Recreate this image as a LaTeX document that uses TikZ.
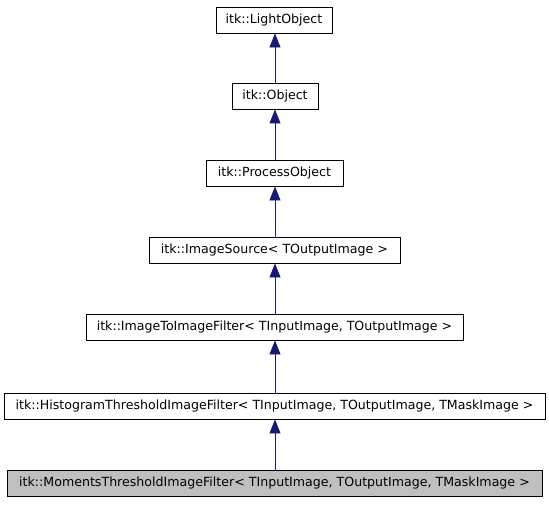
\documentclass[tikz,border=0pt]{standalone}
\usepackage{fontspec}
\setmainfont{DejaVu Sans}
\usetikzlibrary{arrows.meta}
\definecolor{edgeblue}{RGB}{25,25,112}
\definecolor{curfill}{RGB}{191,191,191}
\begin{document}
\begin{tikzpicture}[x=1pt,y=-1pt,
  cls/.style={draw=black, line width=0.9pt, fill=white, minimum height=26pt, inner sep=0pt, font=\fontsize{12.6}{14}\selectfont},
  inh/.style={draw=edgeblue, line width=0.9pt, -{Triangle[width=11pt,length=14pt]}}]
\useasboundingbox (0,0) rectangle (549,504);
\node[cls, minimum width=116pt] (light) at (274,20) {itk::LightObject};
\node[cls, minimum width=86pt] (obj) at (275,96) {itk::Object};
\node[cls, minimum width=137pt] (proc) at (274.5,173) {itk::ProcessObject};
\node[cls, minimum width=251pt] (src) at (274.5,250) {itk::ImageSource< TOutputImage >};
\node[cls, minimum width=377pt] (i2i) at (274.5,327) {itk::ImageToImageFilter< TInputImage, TOutputImage >};
\node[cls, minimum width=541pt] (hist) at (274.5,406) {itk::HistogramThresholdImageFilter< TInputImage, TOutputImage, TMaskImage >};
\node[cls, fill=curfill, minimum width=535pt] (mom) at (274.5,483) {itk::MomentsThresholdImageFilter< TInputImage, TOutputImage, TMaskImage >};
\draw[inh] (obj.north -| 275,0) -- (light.south -| 275,0);
\draw[inh] (proc.north -| 275,0) -- (obj.south -| 275,0);
\draw[inh] (src.north -| 275,0) -- (proc.south -| 275,0);
\draw[inh] (i2i.north -| 275,0) -- (src.south -| 275,0);
\draw[inh] (hist.north -| 275,0) -- (i2i.south -| 275,0);
\draw[inh] (mom.north -| 275,0) -- (hist.south -| 275,0);
\end{tikzpicture}
\end{document}
